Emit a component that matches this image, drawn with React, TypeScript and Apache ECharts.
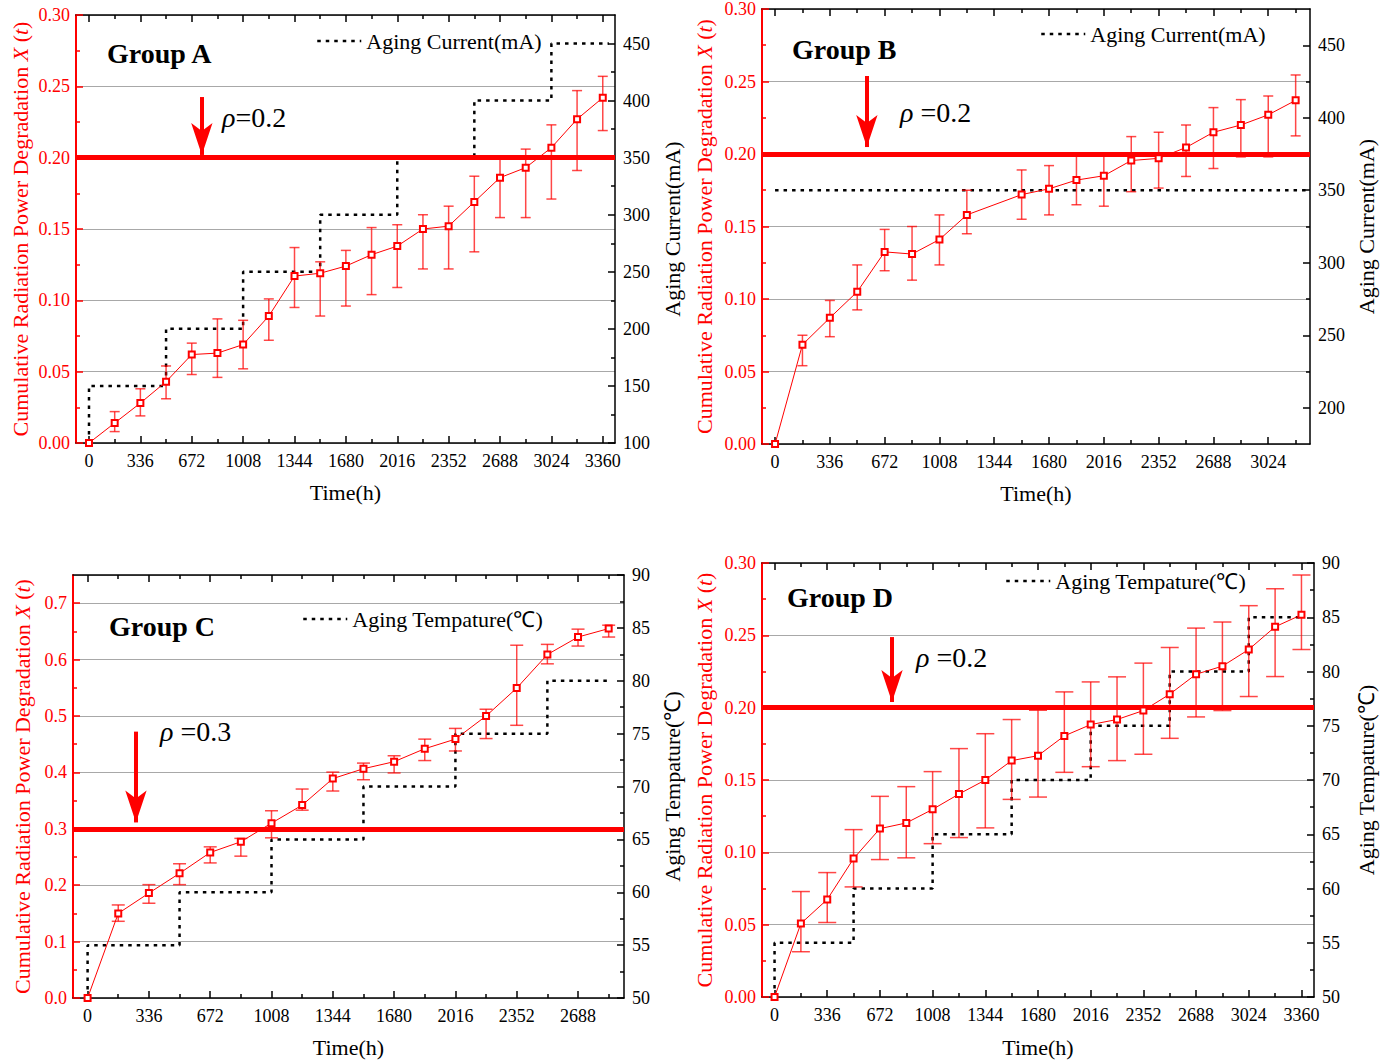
import React, { useEffect, useRef } from "react";
import * as echarts from "echarts";

const FONT = '"Liberation Serif", "Times New Roman", serif';
const RED = "#ff0000";
const GRID_GRAY = "#a8a8a8";

// ---------------- Group A ----------------
const timeA = [0, 168, 336, 504, 672, 840, 1008, 1176, 1344, 1512, 1680, 1848, 2016, 2184, 2352, 2520, 2688, 2856, 3024, 3192, 3360];
const meanA = [0, 0.014, 0.028, 0.043, 0.062, 0.063, 0.069, 0.089, 0.117, 0.119, 0.124, 0.132, 0.138, 0.150, 0.152, 0.169, 0.186, 0.193, 0.207, 0.227, 0.242];
const upperA = [null, 0.022, 0.038, 0.054, 0.070, 0.087, 0.086, 0.101, 0.137, 0.127, 0.135, 0.151, 0.153, 0.160, 0.166, 0.187, 0.200, 0.206, 0.223, 0.247, 0.257];
const lowerA = [null, 0.008, 0.019, 0.031, 0.048, 0.046, 0.052, 0.072, 0.095, 0.089, 0.096, 0.104, 0.109, 0.122, 0.122, 0.134, 0.158, 0.158, 0.171, 0.191, 0.219];
const stepTimeA = [0, 504, 1008, 1512, 2016, 2520, 3024];
const stepLevelA = [150, 200, 250, 300, 350, 400, 450];
const stepEndA = 3400;
const xTicksA = [0, 336, 672, 1008, 1344, 1680, 2016, 2352, 2688, 3024, 3360];
const xMinorA = [168, 504, 840, 1176, 1512, 1848, 2184, 2520, 2856, 3192];
const rTicksA = [100, 150, 200, 250, 300, 350, 400, 450];
const rMinorA = [125, 175, 225, 275, 325, 375, 425];

// ---------------- Group B ----------------
const timeB = [0, 168, 336, 504, 672, 840, 1008, 1176, 1512, 1680, 1848, 2016, 2184, 2352, 2520, 2688, 2856, 3024, 3192];
const meanB = [0, 0.0685, 0.087, 0.105, 0.1325, 0.131, 0.141, 0.158, 0.172, 0.176, 0.182, 0.185, 0.1955, 0.197, 0.2045, 0.215, 0.220, 0.227, 0.237];
const upperB = [null, 0.075, 0.099, 0.1235, 0.148, 0.150, 0.158, 0.175, 0.189, 0.192, 0.1985, 0.200, 0.212, 0.215, 0.220, 0.232, 0.2375, 0.240, 0.2545];
const lowerB = [null, 0.054, 0.074, 0.0925, 0.1195, 0.113, 0.1235, 0.145, 0.155, 0.158, 0.165, 0.164, 0.174, 0.1765, 0.1845, 0.190, 0.198, 0.198, 0.2125];
const stepTimeB = [0];
const stepLevelB = [350];
const stepEndB = 3280;
const xTicksB = [0, 336, 672, 1008, 1344, 1680, 2016, 2352, 2688, 3024];
const xMinorB = [168, 504, 840, 1176, 1512, 1848, 2184, 2520, 2856, 3192];
const rTicksB = [200, 250, 300, 350, 400, 450];
const rMinorB = [225, 275, 325, 375, 425];

// ---------------- Group C ----------------
const timeC = [0, 168, 336, 504, 672, 840, 1008, 1176, 1344, 1512, 1680, 1848, 2016, 2184, 2352, 2520, 2688, 2856];
const meanC = [0, 0.150, 0.186, 0.221, 0.258, 0.277, 0.310, 0.342, 0.389, 0.4065, 0.419, 0.442, 0.459, 0.500, 0.5495, 0.609, 0.640, 0.655];
const upperC = [null, 0.165, 0.201, 0.238, 0.268, 0.283, 0.332, 0.3705, 0.4005, 0.4165, 0.4295, 0.459, 0.478, 0.512, 0.6255, 0.627, 0.654, 0.661];
const lowerC = [null, 0.136, 0.168, 0.201, 0.2395, 0.2515, 0.284, 0.333, 0.367, 0.387, 0.399, 0.421, 0.438, 0.460, 0.4835, 0.5925, 0.624, 0.640];
const stepTimeC = [0, 504, 1008, 1512, 2016, 2520];
const stepLevelC = [55, 60, 65, 70, 75, 80];
const stepEndC = 2856;
const xTicksC = [0, 336, 672, 1008, 1344, 1680, 2016, 2352, 2688];
const xMinorC = [168, 504, 840, 1176, 1512, 1848, 2184, 2520, 2856];
const rTicksC = [50, 55, 60, 65, 70, 75, 80, 85, 90];
const rMinorC = [52.5, 57.5, 62.5, 67.5, 72.5, 77.5, 82.5, 87.5];

// ---------------- Group D ----------------
const timeD = [0, 168, 336, 504, 672, 840, 1008, 1176, 1344, 1512, 1680, 1848, 2016, 2184, 2352, 2520, 2688, 2856, 3024, 3192, 3360];
const meanD = [0, 0.0508, 0.0674, 0.0957, 0.1164, 0.1203, 0.1297, 0.1403, 0.150, 0.1634, 0.1668, 0.1805, 0.1883, 0.1918, 0.198, 0.2093, 0.2231, 0.2287, 0.2402, 0.2559, 0.2642];
const upperD = [null, 0.0729, 0.086, 0.1157, 0.1387, 0.1454, 0.1558, 0.1717, 0.182, 0.1918, 0.1982, 0.2109, 0.2178, 0.2213, 0.2308, 0.2416, 0.255, 0.2592, 0.2705, 0.2822, 0.2917];
const lowerD = [null, 0.0313, 0.0515, 0.0761, 0.095, 0.0962, 0.106, 0.1102, 0.1169, 0.1366, 0.1382, 0.1553, 0.1592, 0.1634, 0.1678, 0.1788, 0.1936, 0.198, 0.2077, 0.2215, 0.2402];
const stepTimeD = [0, 504, 1008, 1512, 2016, 2520, 3024];
const stepLevelD = [55, 60, 65, 70, 75, 80, 85];
const stepEndD = 3360;
const xTicksD = [0, 336, 672, 1008, 1344, 1680, 2016, 2352, 2688, 3024, 3360];
const xMinorD = [168, 504, 840, 1176, 1512, 1848, 2184, 2520, 2856, 3192];
const rTicksD = [50, 55, 60, 65, 70, 75, 80, 85, 90];
const rMinorD = [52.5, 57.5, 62.5, 67.5, 72.5, 77.5, 82.5, 87.5];

const yMinor005 = [0.025, 0.075, 0.125, 0.175, 0.225, 0.275];
const yMinorC = [0.05, 0.15, 0.25, 0.35, 0.45, 0.55, 0.65];

const LEFT_NAME = "Cumulative Radiation Power Degradation {i|X} ({i|t})";
const CURRENT = "Aging Current(mA)";
const TEMP = "Aging Tempature(℃)";

const panels = [
  {
    grid: { left: 76, top: 15, width: 539, height: 428 },
    xMin: -85, xMax: 3440, xTicks: xTicksA, xMinor: xMinorA,
    yMax: 0.3, yInterval: 0.05, yDigits: 2, yMinor: yMinor005,
    rMin: 100, rMax: 475, rTicks: rTicksA, rMinor: rMinorA, rightName: CURRENT,
    time: timeA, mean: meanA, upper: upperA, lower: lowerA,
    stepTime: stepTimeA, stepLevel: stepLevelA, stepEnd: stepEndA, stepBase: 100,
    threshold: 0.2, arrow: { x: 738, top: 0.2425, tip: 0.2019 }, cap: 10,
    leftGap: 45, rightGap: 46, xGap: 38,
    legend: { left: 316, top: 30 },
    group: { x: 107, y: 53, text: "Group A" },
    rho: { x: 222, y: 117, text: "{i|ρ}=0.2" },
  },
  {
    grid: { left: 762, top: 9, width: 548, height: 435 },
    xMin: -80, xMax: 3280, xTicks: xTicksB, xMinor: xMinorB,
    yMax: 0.3, yInterval: 0.05, yDigits: 2, yMinor: yMinor005,
    rMin: 175, rMax: 475, rTicks: rTicksB, rMinor: rMinorB, rightName: CURRENT,
    time: timeB, mean: meanB, upper: upperB, lower: lowerB,
    stepTime: stepTimeB, stepLevel: stepLevelB, stepEnd: stepEndB, stepBase: null,
    threshold: 0.2, arrow: { x: 563, top: 0.2538, tip: 0.2048 }, cap: 10,
    leftGap: 47, rightGap: 45, xGap: 38,
    legend: { left: 1040, top: 23 },
    group: { x: 792, y: 49, text: "Group B" },
    rho: { x: 900, y: 112, text: "{i|ρ} =0.2" },
  },
  {
    grid: { left: 73, top: 575, width: 551, height: 423 },
    xMin: -80, xMax: 2940, xTicks: xTicksC, xMinor: xMinorC,
    yMax: 0.75, yInterval: 0.1, yDigits: 1, yMinor: yMinorC,
    rMin: 50, rMax: 90, rTicks: rTicksC, rMinor: rMinorC, rightName: TEMP,
    time: timeC, mean: meanC, upper: upperC, lower: lowerC,
    stepTime: stepTimeC, stepLevel: stepLevelC, stepEnd: stepEndC, stepBase: 50,
    threshold: 0.3, arrow: { x: 265, top: 0.4723, tip: 0.3113 }, cap: 13,
    leftGap: 40, rightGap: 37, xGap: 38,
    legend: { left: 302, top: 608 },
    group: { x: 109, y: 626, text: "Group C" },
    rho: { x: 160, y: 731, text: "{i|ρ} =0.3" },
  },
  {
    grid: { left: 762, top: 563, width: 552, height: 434 },
    xMin: -80, xMax: 3440, xTicks: xTicksD, xMinor: xMinorD,
    yMax: 0.3, yInterval: 0.05, yDigits: 2, yMinor: yMinor005,
    rMin: 50, rMax: 90, rTicks: rTicksD, rMinor: rMinorD, rightName: TEMP,
    time: timeD, mean: meanD, upper: upperD, lower: lowerD,
    stepTime: stepTimeD, stepLevel: stepLevelD, stepEnd: stepEndD, stepBase: 50,
    threshold: 0.2, arrow: { x: 749, top: 0.2488, tip: 0.2039 }, cap: 18,
    leftGap: 47, rightGap: 41, xGap: 39,
    legend: { left: 1005, top: 570 },
    group: { x: 787, y: 597, text: "Group D" },
    rho: { x: 916, y: 657, text: "{i|ρ} =0.2" },
  },
];

function stepPoints(times: number[], levels: number[], end: number, base: number | null) {
  const pts: number[][] = [];
  if (base !== null) pts.push([times[0], base]);
  for (let i = 0; i < times.length; i++) {
    pts.push([times[i], levels[i]]);
    pts.push([i + 1 < times.length ? times[i + 1] : end, levels[i]]);
  }
  return pts;
}

function buildOption() {
  const grids: any[] = [];
  const xAxes: any[] = [];
  const yAxes: any[] = [];
  const series: any[] = [];
  const legends: any[] = [];
  const graphics: any[] = [];

  panels.forEach((p, gi) => {
    grids.push({ ...p.grid, containLabel: false, outerBoundsMode: "none", show: false });

    const tickLen = 7;
    const minorLen = 4;
    const blackLine = { color: "#000", width: 1.5 };
    const labelStyle = { fontFamily: FONT, fontSize: 18, color: "#000" };
    const plain = (v: number) => String(v);

    // bottom main x axis
    xAxes.push({
      type: "value", gridIndex: gi, position: "bottom", min: p.xMin, max: p.xMax,
      axisLine: { show: true, onZero: false, lineStyle: blackLine },
      axisTick: { show: true, inside: true, length: tickLen, customValues: p.xTicks, lineStyle: blackLine },
      axisLabel: { show: true, customValues: p.xTicks, margin: 9, formatter: plain, ...labelStyle },
      splitLine: { show: false },
      name: "Time(h)", nameLocation: "middle", nameGap: p.xGap, nameMoveOverlap: false,
      nameTextStyle: { fontFamily: FONT, fontSize: 22, color: "#000" },
    });
    // bottom minor
    xAxes.push({
      type: "value", gridIndex: gi, position: "bottom", min: p.xMin, max: p.xMax,
      axisLine: { show: false, onZero: false },
      axisTick: { show: true, inside: true, length: minorLen, customValues: p.xMinor, lineStyle: blackLine },
      axisLabel: { show: false }, splitLine: { show: false },
    });
    // top main
    xAxes.push({
      type: "value", gridIndex: gi, position: "top", min: p.xMin, max: p.xMax,
      axisLine: { show: true, onZero: false, lineStyle: blackLine },
      axisTick: { show: true, inside: true, length: tickLen, customValues: p.xTicks, lineStyle: blackLine },
      axisLabel: { show: false }, splitLine: { show: false },
    });
    // top minor
    xAxes.push({
      type: "value", gridIndex: gi, position: "top", min: p.xMin, max: p.xMax,
      axisLine: { show: false, onZero: false },
      axisTick: { show: true, inside: true, length: minorLen, customValues: p.xMinor, lineStyle: blackLine },
      axisLabel: { show: false }, splitLine: { show: false },
    });

    // left main y axis
    yAxes.push({
      type: "value", gridIndex: gi, position: "left", min: 0, max: p.yMax, interval: p.yInterval,
      axisLine: { show: true, onZero: false, lineStyle: { color: RED, width: 2 } },
      axisTick: { show: true, inside: true, length: tickLen, lineStyle: { color: RED, width: 1.5 } },
      axisLabel: {
        show: true, showMaxLabel: p.yMax === 0.3 ? true : false, margin: 6,
        fontFamily: FONT, fontSize: 18, color: RED,
        formatter: (v: number) => v.toFixed(p.yDigits),
      },
      splitLine: { show: true, lineStyle: { color: GRID_GRAY, width: 1 } },
      name: LEFT_NAME, nameLocation: "middle", nameRotate: 90, nameGap: p.leftGap, nameMoveOverlap: false,
      nameTextStyle: {
        fontFamily: FONT, fontSize: 22, color: RED,
        rich: { i: { fontFamily: FONT, fontSize: 22, color: RED, fontStyle: "italic" } },
      },
    });
    // left minor
    yAxes.push({
      type: "value", gridIndex: gi, position: "left", min: 0, max: p.yMax,
      axisLine: { show: false, onZero: false },
      axisTick: { show: true, inside: true, length: minorLen, customValues: p.yMinor, lineStyle: { color: RED, width: 1.5 } },
      axisLabel: { show: false }, splitLine: { show: false },
    });
    // right main
    yAxes.push({
      type: "value", gridIndex: gi, position: "right", min: p.rMin, max: p.rMax,
      axisLine: { show: true, onZero: false, lineStyle: blackLine },
      axisTick: { show: true, inside: true, length: tickLen, customValues: p.rTicks, lineStyle: blackLine },
      axisLabel: { show: true, customValues: p.rTicks, margin: 8, formatter: plain, ...labelStyle },
      splitLine: { show: false },
      name: p.rightName, nameLocation: "middle", nameRotate: 90, nameGap: p.rightGap, nameMoveOverlap: false,
      nameTextStyle: { fontFamily: FONT, fontSize: 22, color: "#000" },
    });
    // right minor
    yAxes.push({
      type: "value", gridIndex: gi, position: "right", min: p.rMin, max: p.rMax,
      axisLine: { show: false, onZero: false },
      axisTick: { show: true, inside: true, length: minorLen, customValues: p.rMinor, lineStyle: blackLine },
      axisLabel: { show: false }, splitLine: { show: false },
    });

    const xi = gi * 4;
    const yl = gi * 4;
    const yr = gi * 4 + 2;

    // step line (aging stress)
    series.push({
      type: "line", name: p.rightName, xAxisIndex: xi, yAxisIndex: yr,
      data: stepPoints(p.stepTime, p.stepLevel, p.stepEnd, p.stepBase),
      symbol: "none", z: 3,
      lineStyle: { color: "#000", width: 2.5, type: [3.5, 5] },
      itemStyle: { color: "#000" },
    });

    // error bars
    const errData: number[][] = [];
    p.time.forEach((t, i) => {
      if (p.upper[i] !== null && p.lower[i] !== null) errData.push([t, p.lower[i] as number, p.upper[i] as number]);
    });
    const cap = p.cap;
    series.push({
      type: "custom", xAxisIndex: xi, yAxisIndex: yl, z: 4,
      data: errData,
      encode: { x: 0, y: [1, 2] },
      renderItem: (params: any, api: any) => {
        const x = api.value(0);
        const lo = api.coord([x, api.value(1)]);
        const hi = api.coord([x, api.value(2)]);
        const style = { stroke: "rgba(255,0,0,0.72)", lineWidth: 1.5 };
        const hw = cap / 2;
        return {
          type: "group",
          children: [
            { type: "line", shape: { x1: hi[0], y1: hi[1], x2: lo[0], y2: lo[1] }, style },
            { type: "line", shape: { x1: hi[0] - hw, y1: hi[1], x2: hi[0] + hw, y2: hi[1] }, style },
            { type: "line", shape: { x1: lo[0] - hw, y1: lo[1], x2: lo[0] + hw, y2: lo[1] }, style },
          ],
        };
      },
    });

    // main degradation line
    series.push({
      type: "line", name: "X(t) " + p.group.text, xAxisIndex: xi, yAxisIndex: yl, z: 5,
      data: p.time.map((t, i) => [t, p.mean[i]]),
      symbol: "emptyRect", symbolSize: 6,
      lineStyle: { color: RED, width: 1 },
      itemStyle: { color: RED, borderColor: RED, borderWidth: 1 },
      markLine: {
        silent: true, animation: false, symbol: ["none", "none"],
        label: { show: false },
        emphasis: { disabled: true },
        data: [
          { yAxis: p.threshold, lineStyle: { color: RED, width: 5, type: "solid" } },
          [
            { coord: [p.arrow.x, p.arrow.top], symbol: "none", lineStyle: { color: RED, width: 4, type: "solid" } },
            { coord: [p.arrow.x, p.arrow.tip], symbol: "arrow", symbolSize: [16, 32] },
          ],
        ],
      },
    });

    legends.push({
      show: true, left: p.legend.left, top: p.legend.top, padding: 0, orient: "horizontal",
      data: [p.rightName], itemWidth: 44, itemHeight: 20, selectedMode: false,
      itemStyle: { opacity: 0, color: "rgba(0,0,0,0)", borderWidth: 0 },
      lineStyle: { color: "#000", width: 2.5, type: [3.5, 5], opacity: 1 },
      textStyle: { fontFamily: FONT, fontSize: 22, color: "#000" },
    });

    graphics.push({
      type: "text", x: p.group.x, y: p.group.y, z: 10,
      style: { text: p.group.text, fontFamily: FONT, fontSize: 28, fontWeight: "bold", fill: "#000", verticalAlign: "middle", align: "left" },
    });
    graphics.push({
      type: "text", x: p.rho.x, y: p.rho.y, z: 10,
      style: {
        text: p.rho.text, fontFamily: FONT, fontSize: 28, fill: "#000", verticalAlign: "middle", align: "left",
        rich: { i: { fontFamily: FONT, fontSize: 28, fontStyle: "italic", fill: "#000" } },
      },
    });
  });

  return {
    animation: false,
    backgroundColor: "#ffffff",
    grid: grids,
    xAxis: xAxes,
    yAxis: yAxes,
    legend: legends,
    series,
    graphic: graphics,
  };
}

export default function App() {
  const ref = useRef<HTMLDivElement>(null);
  useEffect(() => {
    if (!ref.current) return;
    const chart = echarts.init(ref.current, undefined, { renderer: "svg" });
    chart.setOption(buildOption() as any);
    return () => chart.dispose();
  }, []);
  return (
    <div
      ref={ref}
      style={{ position: "absolute", left: 0, top: 0, width: 1393, height: 1064, background: "#fff" }}
    />
  );
}
